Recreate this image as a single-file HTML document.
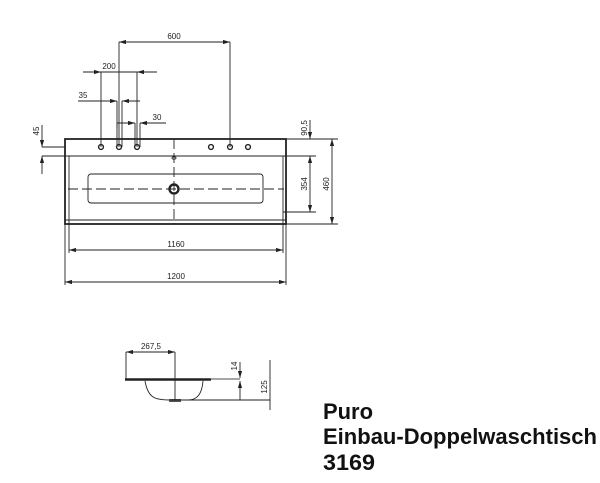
<!DOCTYPE html>
<html><head><style>body{margin:0;background:#fff}svg{display:block}</style></head><body>
<svg width="600" height="483" viewBox="0 0 600 483" xmlns="http://www.w3.org/2000/svg" font-family="Liberation Sans, sans-serif">
<defs><marker id="a" viewBox="0 0 10 6" refX="10" refY="3" markerWidth="8" markerHeight="5" orient="auto-start-reverse"><path d="M0,0L10,3L0,6z" fill="#222"/></marker></defs>
<g stroke="#222" fill="none" stroke-width="0.9">
<rect x="65" y="139" width="221" height="85" stroke-width="1.8"/>
<line x1="65" y1="156" x2="286" y2="156"/>
<line x1="69" y1="156" x2="69" y2="224"/><line x1="283" y1="156" x2="283" y2="224"/>
<line x1="65" y1="220" x2="286" y2="220"/>
<rect x="88" y="174" width="175" height="29" rx="3"/>
<line x1="68" y1="189" x2="284" y2="189" stroke-dasharray="10,4"/>
<line x1="174" y1="139" x2="174" y2="224" stroke-dasharray="10,4"/>
<circle cx="174" cy="189" r="4.5" stroke-width="2.4"/>
<ellipse cx="174" cy="158" rx="2" ry="1.2"/>
<g stroke-width="1.4"><circle cx="101" cy="147" r="2.4"/><circle cx="119" cy="147" r="2.4"/><circle cx="137" cy="147" r="2.4"/><circle cx="211" cy="147" r="2.4"/><circle cx="230" cy="147" r="2.4"/><circle cx="248" cy="147" r="2.4"/></g>
<line x1="119" y1="42" x2="119" y2="147"/><line x1="230" y1="42" x2="230" y2="147"/>
<line x1="119" y1="42" x2="230" y2="42" marker-start="url(#a)" marker-end="url(#a)"/>
<line x1="101" y1="72" x2="101" y2="147"/><line x1="137" y1="72" x2="137" y2="147"/>
<line x1="83" y1="72" x2="101" y2="72" marker-end="url(#a)"/><line x1="157" y1="72" x2="137" y2="72" marker-end="url(#a)"/>
<line x1="101" y1="72" x2="137" y2="72"/>
<line x1="117" y1="101" x2="117" y2="147"/><line x1="122" y1="101" x2="122" y2="147"/>
<line x1="78" y1="101" x2="117" y2="101" marker-end="url(#a)"/><line x1="140" y1="101" x2="122" y2="101" marker-end="url(#a)"/>
<line x1="135" y1="123" x2="135" y2="147"/><line x1="140" y1="123" x2="140" y2="147"/>
<line x1="117" y1="123" x2="135" y2="123" marker-end="url(#a)"/><line x1="166" y1="123" x2="140" y2="123" marker-end="url(#a)"/>
<line x1="117" y1="123" x2="117" y2="128"/>
<line x1="42" y1="147" x2="65" y2="147"/><line x1="42" y1="156" x2="65" y2="156"/>
<line x1="42" y1="125" x2="42" y2="147" marker-end="url(#a)"/><line x1="42" y1="174" x2="42" y2="156" marker-end="url(#a)"/>
<line x1="286" y1="139" x2="338" y2="139"/><line x1="283" y1="156" x2="316" y2="156"/>
<line x1="286" y1="224" x2="338" y2="224"/><line x1="283" y1="212" x2="316" y2="212"/>
<line x1="310" y1="120" x2="310" y2="139" marker-end="url(#a)"/>
<line x1="310" y1="156" x2="310" y2="212" marker-start="url(#a)" marker-end="url(#a)"/>
<line x1="332" y1="139" x2="332" y2="224" marker-start="url(#a)" marker-end="url(#a)"/>
<line x1="69" y1="224" x2="69" y2="253"/><line x1="283" y1="224" x2="283" y2="253"/>
<line x1="69" y1="250" x2="283" y2="250" marker-start="url(#a)" marker-end="url(#a)"/>
<line x1="65" y1="224" x2="65" y2="285"/><line x1="286" y1="224" x2="286" y2="285"/>
<line x1="65" y1="282" x2="286" y2="282" marker-start="url(#a)" marker-end="url(#a)"/>
<line x1="125" y1="379.5" x2="211" y2="379.5" stroke-width="2.6"/>
<line x1="211" y1="379" x2="240" y2="379" stroke="#888" stroke-width="1.5"/>
<path d="M145,381 C148,398 155,400 170,400 L188,400 C198,400 202,393 203,381"/>
<rect x="169" y="399" width="12" height="3" fill="#555" stroke="none"/>
<line x1="170" y1="400" x2="270" y2="400"/>
<line x1="126" y1="352" x2="126" y2="379"/><line x1="175" y1="352" x2="175" y2="400"/>
<line x1="126" y1="352" x2="175" y2="352" marker-start="url(#a)" marker-end="url(#a)"/>
<line x1="240" y1="362" x2="240" y2="378" marker-end="url(#a)"/>
<line x1="240" y1="400" x2="240" y2="381" marker-end="url(#a)"/>
<line x1="270" y1="360" x2="270" y2="410"/>
</g>
<g font-size="8" fill="#222" text-anchor="middle">
<text x="174" y="39">600</text><text x="109" y="69">200</text><text x="83" y="98">35</text><text x="157" y="120">30</text>
<text x="176" y="247">1160</text><text x="176" y="279">1200</text>
<text x="151" y="349">267,5</text>
<text transform="translate(39,131) rotate(-90)">45</text>
<text transform="translate(307,128) rotate(-90)">90,5</text>
<text transform="translate(307,184) rotate(-90)">354</text>
<text transform="translate(329,184) rotate(-90)">460</text>
<text transform="translate(237,366) rotate(-90)">14</text>
<text transform="translate(267,387) rotate(-90)">125</text>
</g>
<g font-size="22" font-weight="bold" fill="#111">
<text x="323" y="419" textLength="50" lengthAdjust="spacingAndGlyphs">Puro</text>
<text x="323" y="444" textLength="274" lengthAdjust="spacingAndGlyphs">Einbau-Doppelwaschtisch</text>
<text x="323" y="470" textLength="52" lengthAdjust="spacingAndGlyphs">3169</text>
</g>
</svg>
</body></html>
